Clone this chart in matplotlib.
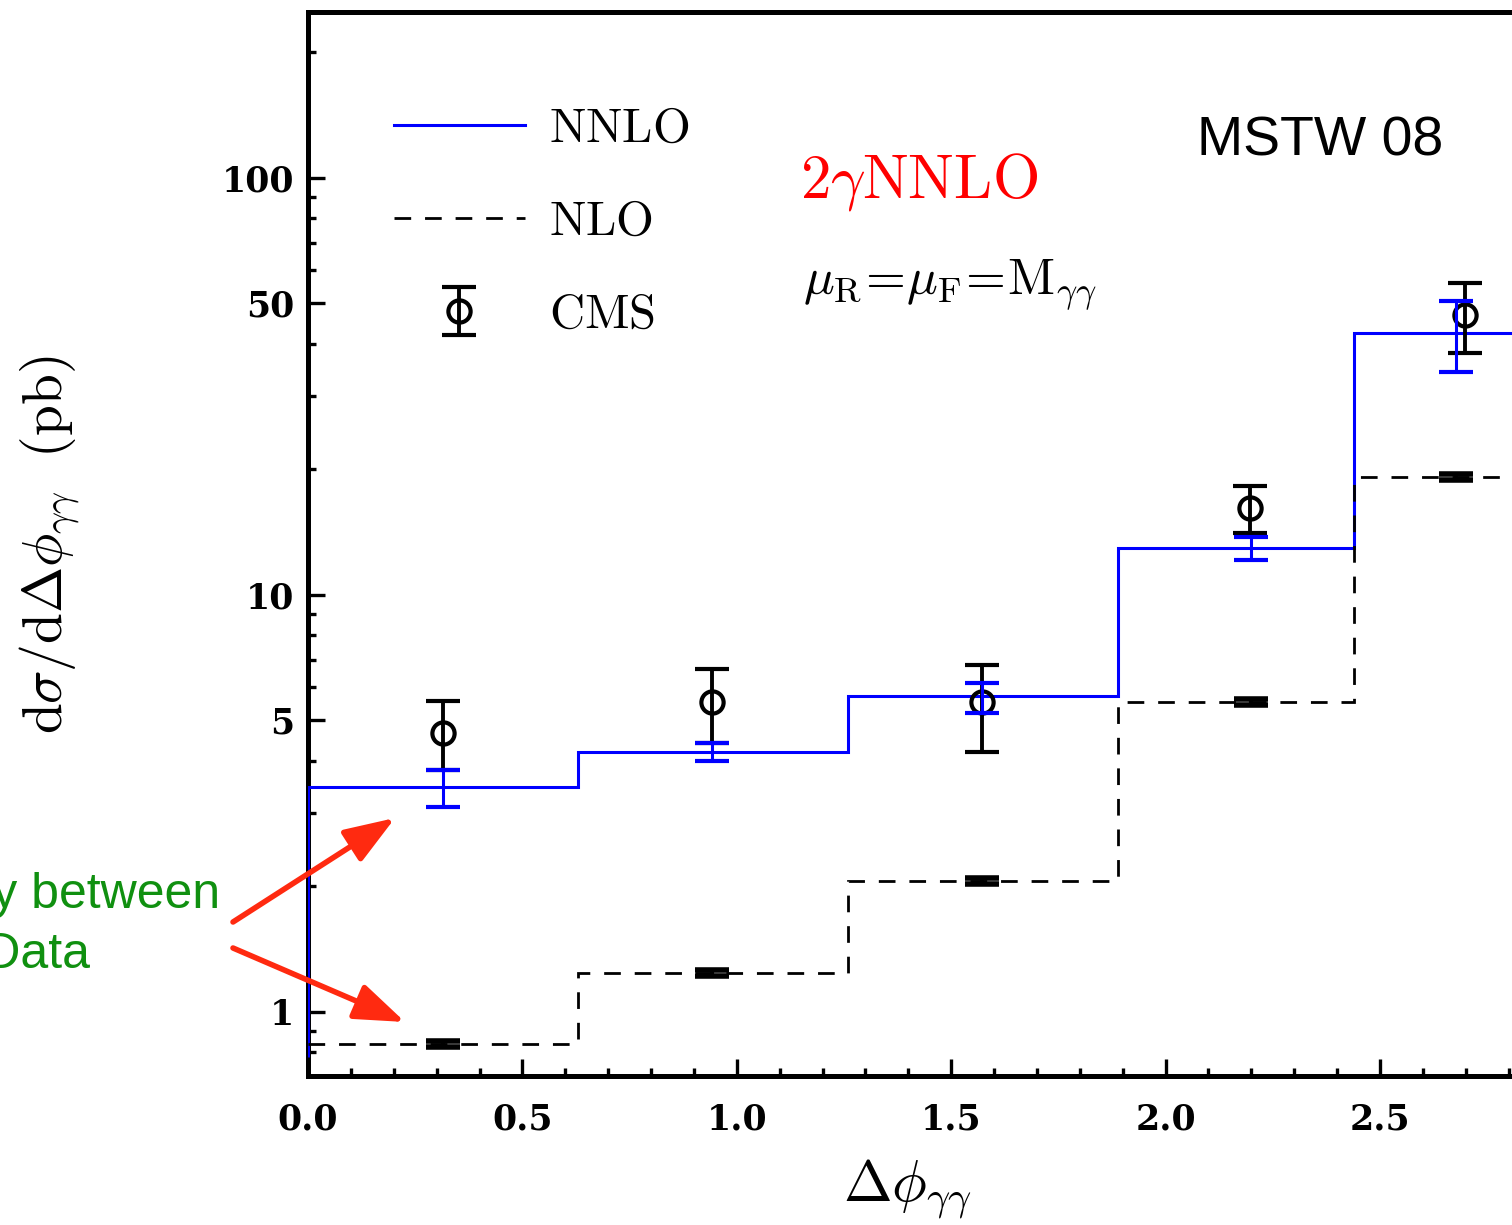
import numpy as np
import matplotlib
matplotlib.use('Agg')
import matplotlib.pyplot as plt
from matplotlib.lines import Line2D
from matplotlib.ticker import FixedLocator, LogLocator, NullFormatter, MultipleLocator

plt.rcParams['mathtext.fontset'] = 'cm'

# bins in delta phi
edges = [0.0, 0.63, 1.26, 1.89, 2.44, 2.83]
nnlo = [3.46, 4.21, 5.72, 12.97, 42.5]
nlo = [0.838, 1.24, 2.06, 5.54, 19.2]
nnlo_start = 0.78

# NNLO uncertainty bars
x_nnlo = [0.314, 0.942, 1.571, 2.20, 2.677]
nnlo_up = [3.80, 4.42, 6.15, 13.78, 50.7]
nnlo_lo = [3.10, 4.00, 5.21, 12.13, 34.3]

# NLO uncertainty bars (tiny)
x_nlo = [0.314, 0.942, 1.571, 2.20, 2.677]
nlo_rel = 0.015

# CMS data
x_cms = [0.314, 0.942, 1.571, 2.196, 2.698]
y_cms = [4.67, 5.54, 5.54, 16.17, 46.9]
cms_up = [5.57, 6.65, 6.80, 18.25, 56.0]
cms_lo = [3.80, 4.42, 4.20, 14.08, 38.0]

W, H = 1512, 1225
def fpx(x, y):
    return x / W, 1 - y / H

fig = plt.figure(figsize=(W / 100, H / 100), dpi=100)
ax_w = np.pi * 428.8
ax = fig.add_axes([308 / W, 1 - 1076 / H, ax_w / W, 1064 / H])
ax.set_xlim(0, np.pi)
ax.set_yscale('log')
ax.set_ylim(0.702, 250)

# curves
ax.stairs(nnlo, edges, baseline=nnlo_start, color='#0000ff', lw=2.2, zorder=3)
ax.stairs(nlo, edges, baseline=None, color='black', lw=2.0, ls=(0, (6, 5)), zorder=3)

nlo_arr = np.array(nlo)
ax.errorbar(x_nlo, nlo, yerr=[nlo_arr * nlo_rel, nlo_arr * nlo_rel], fmt='none',
            ecolor='black', elinewidth=3, capsize=12, capthick=4, zorder=4)

y_cms_a = np.array(y_cms)
h_cms = ax.errorbar(x_cms, y_cms, yerr=[y_cms_a - np.array(cms_lo), np.array(cms_up) - y_cms_a],
                    fmt='o', ms=16, mfc='none', mec='black', mew=3, ecolor='black',
                    elinewidth=2.8, capsize=12.5, capthick=3.4, zorder=5)

nnlo_c = np.sqrt(np.array(nnlo_up) * np.array(nnlo_lo))
ax.errorbar(x_nnlo, nnlo_c, yerr=[nnlo_c - np.array(nnlo_lo), np.array(nnlo_up) - nnlo_c],
            fmt='none', ecolor='#0000ff', elinewidth=2.2, capsize=12, capthick=3.0, zorder=6)

# axes style
for s in ax.spines.values():
    s.set_linewidth(3.6)
ax.yaxis.set_major_locator(FixedLocator([1, 5, 10, 50, 100]))
ax.yaxis.set_minor_locator(LogLocator(base=10, subs=np.arange(2, 10)))
ax.yaxis.set_minor_formatter(NullFormatter())
ax.set_yticklabels(['1', '5', '10', '50', '100'])
ax.xaxis.set_major_locator(MultipleLocator(0.5))
ax.xaxis.set_minor_locator(MultipleLocator(0.1))
ax.xaxis.set_major_formatter(matplotlib.ticker.FormatStrFormatter('%.1f'))
ax.tick_params(which='both', direction='in', top=False, right=False)
ax.tick_params(which='major', length=12, width=2.4)
ax.tick_params(which='minor', length=6, width=2.4)
ax.tick_params(axis='x', pad=19)
ax.tick_params(axis='y', pad=10)
for lab in ax.get_xticklabels() + ax.get_yticklabels():
    lab.set_fontfamily('DejaVu Serif')
    lab.set_fontweight('bold')
    lab.set_fontsize(25)

# axis labels
fig.text(*fpx(50, 545), r'$\mathrm{d}\sigma/\mathrm{d}\Delta\phi_{\gamma\gamma}\ \ (\mathrm{pb})$',
         rotation=90, ha='center', va='center', fontsize=40)
fig.text(*fpx(907, 1190), r'$\Delta\phi_{\gamma\gamma}$', ha='center', va='center', fontsize=42)

# legend
h_nnlo = Line2D([], [], color='#0000ff', lw=2.2)
h_nlo = Line2D([], [], color='black', lw=2.0, ls=(0, (6, 5)))
leg = ax.legend([h_nnlo, h_nlo, h_cms],
                [r'$\mathrm{NNLO}$', r'$\mathrm{NLO}$', r'$\mathrm{CMS}$'],
                loc='upper left', bbox_to_anchor=((350 - 308) / ax_w, 1 - (60 - 12) / 1064),
                frameon=False, fontsize=35, handlelength=2.7, handletextpad=0.5,
                labelspacing=0.93, borderpad=0.4)

# annotations
fig.text(*fpx(800, 182), r'$2\gamma\mathrm{NNLO}$', color='#ff0000', fontsize=44,
         ha='left', va='center')
fig.text(*fpx(803, 285), r'$\mu_{\mathrm{R}}\!=\!\mu_{\mathrm{F}}\!=\!\mathrm{M}_{\gamma\gamma}$',
         fontsize=37, ha='left', va='center')
fig.text(*fpx(1197, 142), 'MSTW 08', fontfamily='Liberation Sans', fontsize=40,
         ha='left', va='center')

green = '#109010'
fig.text(*fpx(220, 895), 'Discrepancy between', color=green, fontfamily='Liberation Sans',
         fontsize=36, ha='right', va='center')
fig.text(*fpx(90, 955), 'NLO and Data', color=green, fontfamily='Liberation Sans',
         fontsize=36, ha='right', va='center')

arrow_kw = dict(arrowstyle='-|>,head_length=1.1,head_width=0.4', color='#ff2a10', lw=4,
                mutation_scale=28, shrinkA=0, shrinkB=0)
ax.annotate('', xy=(395, H - 818), xytext=(233, H - 922), xycoords='figure pixels',
            textcoords='figure pixels', arrowprops=arrow_kw, annotation_clip=False)
ax.annotate('', xy=(405, H - 1022), xytext=(233, H - 948), xycoords='figure pixels',
            textcoords='figure pixels', arrowprops=arrow_kw, annotation_clip=False)

fig.savefig('out.png', dpi=100)
